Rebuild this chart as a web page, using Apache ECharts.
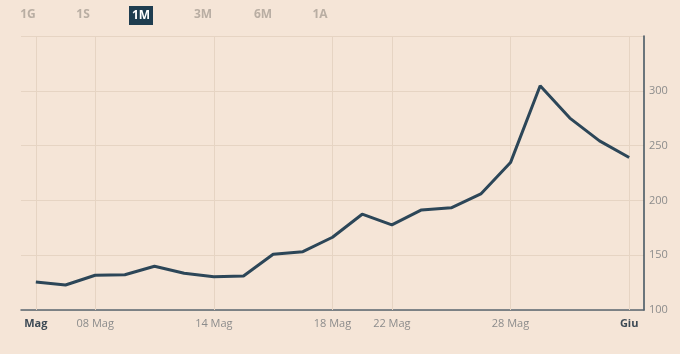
<!DOCTYPE html>
<html>
<head>
<meta charset="utf-8">
<script src="https://cdn.jsdelivr.net/npm/echarts@6/dist/echarts.min.js"></script>
<style>
html,body{margin:0;padding:0;background:#f5e5d7;}
#chart{width:680px;height:354px;}
</style>
</head>
<body>
<div id="chart"></div>
<script>
var tickLabels = ['Mag','','08 Mag','','','','14 Mag','','','','18 Mag','','22 Mag','','','','28 Mag','','','','Giu'];
var boldLabels = ['Mag','Giu'];
var values = [125.6,122.8,131.7,132.2,139.9,133.5,130.4,131.1,150.9,153.2,166.4,187.4,177.6,191.3,193.2,205.9,234.5,304.6,275.1,254.3,239.1];
var yTicks = [100,150,200,250,300,350];
var buttons = ['1G','1S','1M','3M','6M','1A'];
var activeButton = '1M';

var FONT = '"Open Sans", Lato, sans-serif';
var chart = echarts.init(document.getElementById('chart'));
var seriesData = values.map(function(v,i){return [i,v];});
var vLines = [];
tickLabels.forEach(function(l,i){ if(l) vLines.push({xAxis:i}); });

var btnX = [28,83,141,203,263,320];
var graphics = [];
buttons.forEach(function(b,i){
  if(b===activeButton){
    graphics.push({type:'rect',left:btnX[i]-12,top:6,shape:{width:24,height:19},style:{fill:'#1e3d50'}});
    graphics.push({type:'text',x:btnX[i],y:16,style:{text:b,fill:'#ffffff',font:'bold 12px '+FONT,textAlign:'center',textVerticalAlign:'middle'}});
  } else {
    graphics.push({type:'text',x:btnX[i],y:15,style:{text:b,fill:'#b9aea3',font:'bold 12px '+FONT,textAlign:'center',textVerticalAlign:'middle'}});
  }
});

chart.setOption({
  backgroundColor:'#f5e5d7',
  animation:false,
  graphic:graphics,
  grid:{left:21,right:36,top:36,bottom:44},
  xAxis:{
    type:'value',min:-0.5,max:20.5,interval:0.5,
    axisLine:{show:true,onZero:false,lineStyle:{color:'#5a6670',width:1.5}},
    axisTick:{show:false},
    splitLine:{show:false},
    axisLabel:{
      margin:8,color:'#8c8c8c',fontSize:11,fontFamily:FONT,
      showMinLabel:false,showMaxLabel:false,
      formatter:function(v){
        if(!Number.isInteger(v)) return '';
        var l = tickLabels[v] || '';
        if(boldLabels.indexOf(l)>=0) return '{b|'+l+'}';
        return l;
      },
      rich:{b:{fontWeight:'bold',color:'#3d4a55',fontSize:11,fontFamily:FONT}}
    }
  },
  yAxis:{
    type:'value',position:'right',min:100,max:350,interval:50,
    axisLine:{show:true,onZero:false,lineStyle:{color:'#3d4f5c',width:1.5}},
    axisTick:{show:false},
    splitLine:{show:true,lineStyle:{color:'#e6d4c3',width:1}},
    axisLabel:{margin:5,color:'#8c8c8c',fontSize:11,fontFamily:FONT,showMaxLabel:false,
      formatter:function(v){return yTicks.indexOf(v)>=0 && v<350 ? String(v) : '';}}
  },
  series:[
    {type:'line',data:[],z:1,silent:true,
     markLine:{z:1,silent:true,symbol:['none','none'],label:{show:false},
       lineStyle:{color:'#e6d4c3',type:'solid',width:1},data:vLines}},
    {type:'line',data:seriesData,z:3,symbol:'none',
     lineStyle:{color:'#2c4658',width:3}}
  ]
});
</script>
</body>
</html>
